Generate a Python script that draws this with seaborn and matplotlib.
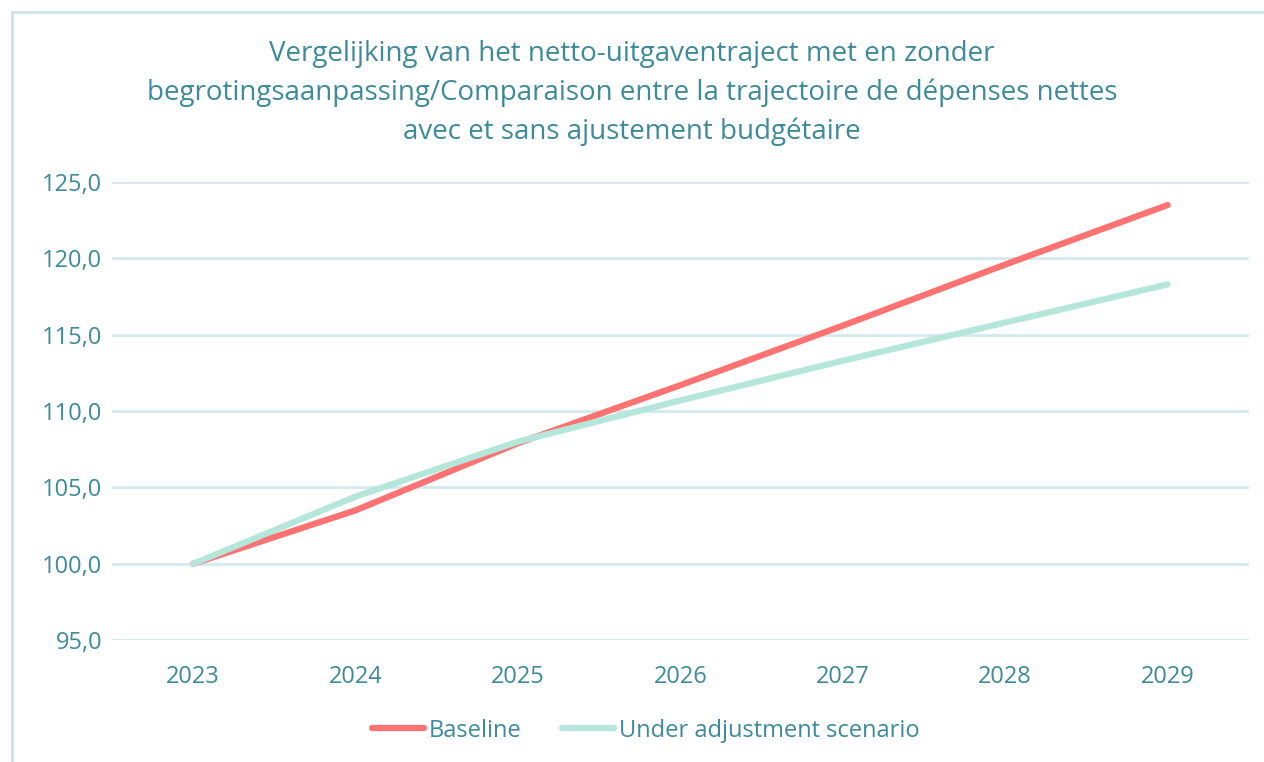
import numpy as np
import pandas as pd
import seaborn as sns
import matplotlib.pyplot as plt
from matplotlib.patches import Rectangle
from matplotlib.ticker import FuncFormatter

# Données
years = ["2023", "2024", "2025", "2026", "2027", "2028", "2029"]
baseline = [100.0, 103.5, 107.9, 111.7, 115.6, 119.6, 123.5]
adjusted = [100.0, 104.4, 108.0, 110.7, 113.3, 115.8, 118.3]
series_names = ["Baseline", "Under adjustment scenario"]

title = ("Vergelijking van het netto-uitgaventraject met en zonder\n"
         "begrotingsaanpassing/Comparaison entre la trajectoire de dépenses nettes\n"
         "avec et sans ajustement budgétaire")

text_col = "#3d8a99"
grid_col = "#d3e9ef"
colors = ["#ff7272", "#b5e6da"]

df = pd.DataFrame({
    "year": years * 2,
    "value": baseline + adjusted,
    "series": [series_names[0]] * len(years) + [series_names[1]] * len(years),
})

sns.set_theme(style="white")
plt.rcParams["font.family"] = ["Open Sans", "DejaVu Sans"]

fig = plt.figure(figsize=(12.64, 7.62), dpi=100)
ax = fig.add_axes([0.0886, 0.160, 0.8994, 0.601])

sns.lineplot(data=df, x="year", y="value", hue="series", palette=colors,
             linewidth=4.5, solid_capstyle="round", ax=ax, sort=False)

ax.set_xlim(-0.5, len(years) - 0.5)
ax.set_ylim(95, 125)
ax.set_yticks(np.arange(95, 126, 5))
ax.yaxis.set_major_formatter(FuncFormatter(lambda v, p: f"{v:.1f}".replace(".", ",")))
ax.grid(axis="y", color=grid_col, linewidth=2)
ax.set_axisbelow(True)
for s in ax.spines.values():
    s.set_visible(False)
ax.tick_params(axis="both", colors=text_col, labelsize=17, length=0)
ax.tick_params(axis="y", pad=7)
ax.tick_params(axis="x", pad=18)
ax.set_xlabel("")
ax.set_ylabel("")

fig.suptitle(title, color=text_col, fontsize=20, y=0.947, linespacing=1.48)

handles, labels = ax.get_legend_handles_labels()
ax.legend(handles, labels, loc="center", bbox_to_anchor=(0.511, 0.041),
          bbox_transform=fig.transFigure, ncol=2, frameon=False,
          fontsize=17, labelcolor=text_col, handlelength=2.2,
          handletextpad=0.2, columnspacing=1.7)

# cadre du graphique
fig.patches.append(Rectangle((12 / 1264, -0.01), 1.02, 1 - 12 / 762 + 0.01,
                             transform=fig.transFigure, fill=False,
                             edgecolor="#c9e4ec", linewidth=2))

plt.savefig("out.png", dpi=100)
